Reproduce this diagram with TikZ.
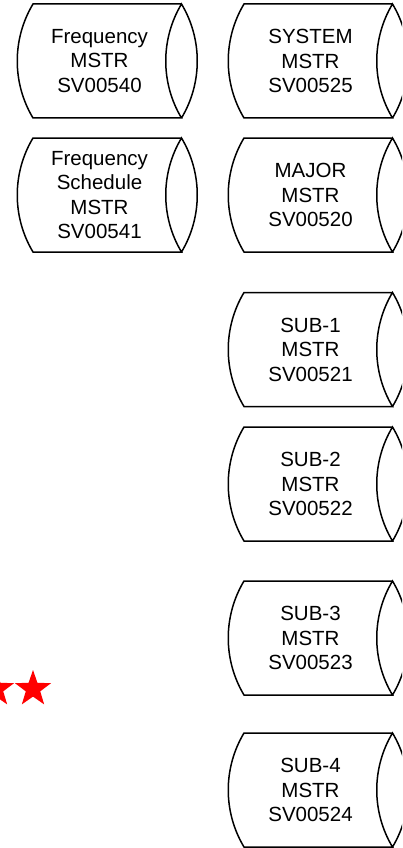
\documentclass[tikz,border=0pt]{standalone}
\usepackage{fontspec}
\setmainfont{Liberation Sans}
\usetikzlibrary{shapes.geometric}

\tikzset{
	beschriftung/.style={align=center, inner sep=0pt, font=\fontsize{20.5}{24.5}\selectfont},
	speicherlinie/.style={line width=1.5pt, line join=miter},
	stern/.style={star, star points=5, star point ratio=2.5, fill=red, draw=none, minimum size=38pt, inner sep=0pt}
}

%% Speicher-Symbol: Name, x, y, Text
\newcommand{\speicher}[4]{%
	\begin{scope}[shift={(#2,#3)}]
	\node[beschriftung] (#1) at (0,0) {#4};
	\draw[speicherlinie] (82,-57) -- (-66.5,-57) .. controls +(-21,35) and +(-21,-35) .. (-66.5,57) -- (82,57)
		.. controls +(-21,-35) and +(-21,35) .. (82,-57) .. controls +(21,35) and +(21,-35) .. (82,57);
	\end{scope}}

\begin{document}
\begin{tikzpicture}[x=1pt, y=-1pt]
	\useasboundingbox (0,0) rectangle (402,848);
	\clip (0,0) rectangle (402,848);

	%% Linke Spalte
	\speicher{freq}{99.5}{61}{Frequency\\MSTR\\SV00540}
	\speicher{freqsched}{99.5}{195}{Frequency\\Schedule\\MSTR\\SV00541}

	%% Rechte Spalte
	\speicher{system}{310.5}{61}{SYSTEM\\MSTR\\SV00525}
	\speicher{major}{310.5}{195}{MAJOR\\MSTR\\SV00520}
	\speicher{subeins}{310.5}{349.5}{SUB-1\\MSTR\\SV00521}
	\speicher{subzwei}{310.5}{484}{SUB-2\\MSTR\\SV00522}
	\speicher{subdrei}{310.5}{638}{SUB-3\\MSTR\\SV00523}
	\speicher{subvier}{310.5}{790}{SUB-4\\MSTR\\SV00524}

	%% Sterne
	\node[stern] (sterneins) at (-4,689) {};
	\node[stern] (sternzwei) at (33,689) {};
\end{tikzpicture}
\end{document}
